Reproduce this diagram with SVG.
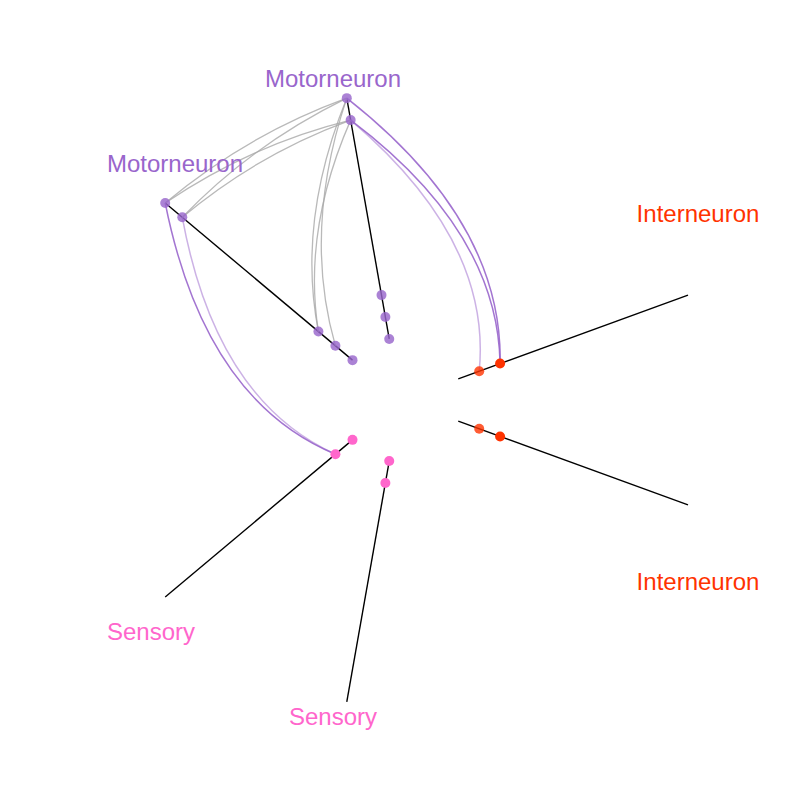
<svg xmlns="http://www.w3.org/2000/svg" width="800" height="800" viewBox="0 0 800 800">
<style>
.axis{stroke:#000;stroke-width:1.4;fill:none}
.eg{stroke:#a8a8a8;stroke-opacity:0.8;stroke-width:1.3;fill:none}
.ep{stroke:#9966cc;stroke-opacity:0.9;stroke-width:1.5;fill:none}
.epl{stroke:#9966cc;stroke-opacity:0.5;stroke-width:1.5;fill:none}
.nm{fill:#9966cc;fill-opacity:0.82}
.ni{fill:#ff3300}
.nil{fill:#ff3300;fill-opacity:0.8}
.ns{fill:#ff66cc}
text{font-family:"Liberation Sans",Arial,sans-serif;font-size:24px;text-anchor:middle}
</style>
<rect width="800" height="800" fill="#fff"/>
<g id="axes">
<line class="axis" x1="389.23" y1="338.94" x2="346.78" y2="98.16"/>
<line class="axis" x1="352.51" y1="360.15" x2="165.21" y2="202.98"/>
<line class="axis" x1="458.26" y1="378.79" x2="688.01" y2="295.17"/>
<line class="axis" x1="458.26" y1="421.21" x2="688.01" y2="504.83"/>
<line class="axis" x1="352.51" y1="439.85" x2="165.21" y2="597.02"/>
<line class="axis" x1="389.23" y1="461.06" x2="346.78" y2="701.84"/>
</g>
<g id="connectors">
<path class="eg" d="M346.78,98.16 Q246.75,134.57 165.21,202.98"/>
<path class="eg" d="M346.78,98.16 Q252.32,144.22 182.29,217.32"/>
<path class="eg" d="M350.65,120.12 Q252.32,144.22 165.21,202.98"/>
<path class="eg" d="M350.65,120.12 Q257.9,153.87 182.29,217.32"/>
<path class="eg" d="M346.78,98.16 Q296.75,221.17 318.42,331.54"/>
<path class="eg" d="M350.65,120.12 Q302.33,230.82 318.42,331.54"/>
<path class="eg" d="M346.78,98.16 Q302.3,230.78 335.42,345.81"/>
<path class="ep" d="M346.78,98.16 Q503.25,221.17 500.08,363.57"/>
<path class="ep" d="M350.65,120.12 Q497.68,230.82 500.08,363.57"/>
<path class="epl" d="M350.65,120.12 Q492.13,240.44 479.22,371.17"/>
<path class="ep" d="M165.21,202.98 Q204.6,400 335.42,454.19"/>
<path class="epl" d="M182.29,217.32 Q215.75,400 335.42,454.19"/>
</g>
<g id="motorneuron-a">
<circle class="nm" cx="389.23" cy="338.94" r="5"/>
<circle class="nm" cx="385.36" cy="316.98" r="5"/>
<circle class="nm" cx="381.51" cy="295.12" r="5"/>
<circle class="nm" cx="350.65" cy="120.12" r="5"/>
<circle class="nm" cx="346.78" cy="98.16" r="5"/>
<text x="333" y="87" fill="#9966cc">Motorneuron</text>
</g>
<g id="motorneuron-b">
<circle class="nm" cx="352.51" cy="360.15" r="5"/>
<circle class="nm" cx="335.42" cy="345.81" r="5"/>
<circle class="nm" cx="318.42" cy="331.54" r="5"/>
<circle class="nm" cx="182.29" cy="217.32" r="5"/>
<circle class="nm" cx="165.21" cy="202.98" r="5"/>
<text x="175" y="172" fill="#9966cc">Motorneuron</text>
</g>
<g id="interneuron-a">
<circle class="nil" cx="479.22" cy="371.17" r="5"/>
<circle class="ni" cx="500.08" cy="363.57" r="5"/>
<text x="698" y="222" fill="#ff3300">Interneuron</text>
</g>
<g id="interneuron-b">
<circle class="nil" cx="479.22" cy="428.83" r="5"/>
<circle class="ni" cx="500.08" cy="436.43" r="5"/>
<text x="698" y="590" fill="#ff3300">Interneuron</text>
</g>
<g id="sensory-a">
<circle class="ns" cx="352.51" cy="439.85" r="5"/>
<circle class="ns" cx="335.42" cy="454.19" r="5"/>
<text x="151" y="640" fill="#ff66cc">Sensory</text>
</g>
<g id="sensory-b">
<circle class="ns" cx="389.23" cy="461.06" r="5"/>
<circle class="ns" cx="385.36" cy="483.02" r="5"/>
<text x="333" y="725" fill="#ff66cc">Sensory</text>
</g>
</svg>
